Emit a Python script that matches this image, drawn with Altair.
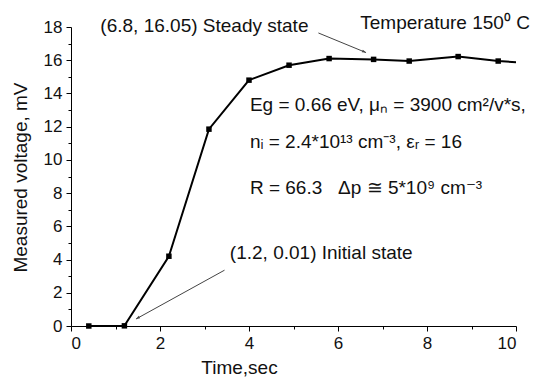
import altair as alt
import pandas as pd

# ---- data ----
time_s = [0.4, 1.2, 2.2, 3.1, 4.0, 4.9, 5.8, 6.8, 7.6, 8.7, 9.6]
voltage_mV = [0.0, 0.01, 4.2, 11.85, 14.8, 15.7, 16.1, 16.05, 15.95, 16.22, 15.95]
line_end_time = [10.0]
line_end_voltage = [15.88]

x_ticks = list(range(0, 11))
y_ticks = list(range(0, 19))

ann_text = [
    "(6.8, 16.05) Steady state",
    "Temperature 150\u2070 C",
    "Eg = 0.66 eV, \u03bc\u2099 = 3900 cm\u00b2/v*s,",
    "n\u1d62 = 2.4*10\u00b9\u00b3 cm\u207b\u00b3, \u03b5\u1d63 = 16",
    "R = 66.3\u00a0\u00a0\u00a0\u0394p \u2245 5*10\u2079 cm\u207b\u00b3",
    "(1.2, 0.01) Initial state",
]
ann_x = [0.66, 6.5, 4.02, 4.02, 4.02, 3.57]
ann_y = [18.06, 18.25, 13.3, 11.07, 8.28, 4.38]

arrow_x = [5.56, 3.45]
arrow_y = [17.64, 3.36]
arrow_x2 = [6.63, 1.46]
arrow_y2 = [16.46, 0.42]
arrow_angle = [112.5, 241.1]

FONT = "Liberation Sans"

pts = pd.DataFrame({"t": time_s, "v": voltage_mV})
line_df = pd.DataFrame({"t": time_s + line_end_time, "v": voltage_mV + line_end_voltage})
ann = pd.DataFrame({"x": ann_x, "y": ann_y, "text": ann_text})
arr = pd.DataFrame({"x": arrow_x, "y": arrow_y, "x2": arrow_x2, "y2": arrow_y2, "a": arrow_angle})

xscale = alt.Scale(domain=[0, 10], nice=False, zero=False)
yscale = alt.Scale(domain=[0, 18], nice=False, zero=False)

tick_cond = {"condition": {"test": "datum.value % 2 !== 0", "value": 3}, "value": 5}

x_axis = alt.Axis(
    title="Time,sec", values=x_ticks, labelExpr="datum.value % 2 === 0 ? datum.label : ''",
    labelOverlap=False, tickSize=tick_cond, grid=False, labelPadding=4,
    labelFont=FONT, labelFontSize=17, labelColor="#111111",
    titleFont=FONT, titleFontSize=19, titleColor="#111111", titleFontWeight="normal",
    domainColor="black", tickColor="black",
    titleX=168, titleY=41, titleBaseline="middle", titleAlign="center",
)
y_axis = alt.Axis(
    title="Measured voltage, mV", values=y_ticks,
    labelExpr="datum.value % 2 === 0 ? datum.label : ''",
    labelOverlap=False, tickSize=tick_cond, grid=False, labelPadding=4,
    labelFont=FONT, labelFontSize=17, labelColor="#111111",
    titleFont=FONT, titleFontSize=19, titleColor="#111111", titleFontWeight="normal",
    domainColor="black", tickColor="black",
    titleX=-51, titleY=150, titleBaseline="middle", titleAlign="center", titleAngle=-90,
)

def X(field):
    return alt.X(field, type="quantitative", scale=xscale, axis=x_axis)

def Y(field):
    return alt.Y(field, type="quantitative", scale=yscale, axis=y_axis)

line = alt.Chart(line_df).mark_line(color="black", strokeWidth=2).encode(
    x=X("t"), y=Y("v"), order="t:Q",
)

markers = alt.Chart(pts).mark_point(shape="square", filled=True, color="black", size=30, opacity=1).encode(
    x=X("t"), y=Y("v")
)

arrows = alt.Chart(arr).mark_rule(color="#444444", strokeWidth=1).encode(
    x=X("x"), y=Y("y"), x2="x2:Q", y2="y2:Q"
)

heads = alt.Chart(arr).mark_point(
    shape="M0,0L0.35,1L-0.35,1Z", filled=True, color="#444444", size=64, opacity=1
).encode(
    x=X("x2"), y=Y("y2"), angle=alt.Angle("a:Q", scale=None)
)

texts = alt.Chart(ann).mark_text(
    align="left", baseline="middle", font=FONT, fontSize=19, color="#111111"
).encode(
    x=X("x"), y=Y("y"), text="text:N"
)

chart = (
    alt.layer(line, arrows, heads, markers, texts)
    .properties(width=445, height=299, autosize=alt.AutoSizeParams(type="none"),
                padding={"left": 71, "top": 27, "right": 18, "bottom": 52},
                background="white")
    .configure_view(stroke=None)
)

chart.save("out.html", embed_options={"renderer": "svg", "actions": False})
